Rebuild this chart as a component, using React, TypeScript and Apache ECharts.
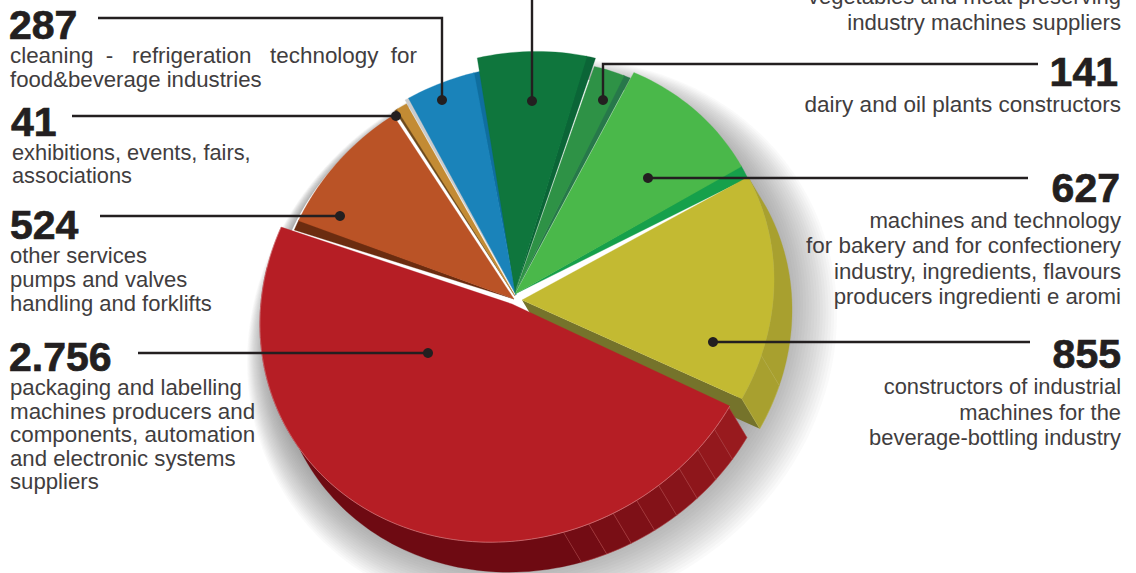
import React, { useEffect, useRef } from "react";
import * as echarts from "echarts";

// ---- data, clockwise from the yellow slice ----
const sliceNames = [
  "constructors of industrial machines for the beverage-bottling industry",
  "packaging and labelling machines producers and components, automation and electronic systems suppliers",
  "other services pumps and valves handling and forklifts",
  "exhibitions, events, fairs, associations",
  "cleaning - refrigeration technology for food&beverage industries",
  "vegetables and meat preserving industry machines suppliers",
  "dairy and oil plants constructors",
  "machines and technology for bakery and for confectionery industry, ingredients, flavours producers ingredienti e aromi",
];
const sliceValues = [855, 2756, 524, 41, 287, 410, 141, 627];
const sliceColors = ["#C3BA32", "#B61E25", "#BA5326", "#C38B34", "#1A83BA", "#0F763D", "#2E9246", "#4AB84A"];

// ---- projection of the pie, layout only ----
const C = [512, 302];
const AX_M = [0.88, -0.47];
const AX_N = [0.47, 0.88];
const R_M = 258;
const R_N = 233;
const EXTRUDE = [18, 30];
const START_THETA = 2;
// painter's order
const paintOrder = [2, 3, 4, 5, 6, 7, 0, 1];
// per slice: offset, radial scale, edge nudges, start strip, end strip
const sliceLayout = [
  { dx: 10, dy: -2, s: 1.0, a0: -2.5, a1: -1.5, startDeg: 0, startCol: "", endDeg: 0, endCol: "" },
  { dx: 0, dy: 2, s: 1, a0: -0.6, a1: -3, startDeg: 0, startCol: "", endDeg: 0, endCol: "" },
  { dx: 2, dy: -3, s: 0.945, a0: -1.5, a1: -0.6, startDeg: 2.5, startCol: "#6B2C10", endDeg: 0, endCol: "" },
  { dx: 3, dy: -6, s: 0.95, a0: 0.3, a1: 0.3, startDeg: 0.6, startCol: "#6E4A1C", endDeg: 0, endCol: "" },
  { dx: 4, dy: -7, s: 0.965, a0: 1.0, a1: -1, startDeg: 0.9, startCol: "#C9CBCD", endDeg: 1.8, endCol: "#0F6E9F" },
  { dx: 3, dy: -10, s: 1.01, a0: 0.4, a1: -0.8, startDeg: 0, startCol: "", endDeg: 2.0, endCol: "#0B6537" },
  { dx: 3, dy: -9, s: 0.98, a0: 1.5, a1: 0, startDeg: 0, startCol: "", endDeg: 1.6, endCol: "#27784A" },
  { dx: 3, dy: -8, s: 1.01, a0: 1.6, a1: -3.4, startDeg: 0, startCol: "", endDeg: 3.2, endCol: "#16A04B" },
];
// soft shadow under the pie, as stacked translucent ellipses
const SHADOW_LAYERS = 24;
const SHADOW_ALPHA = 0.03;
const SHADOW_SCALE = [1.0, 1.17];
const SHADOW_OFFSET_NEAR = [8, 14];
const SHADOW_OFFSET_FAR = [30, 36];

const LINE = "#231F20";
const TXT = "#413D3E";
const NUM = "#231F20";

// leader lines: polyline then a dot at its last point
const leaders = [
  [[98, 18], [442, 18], [442, 100]],
  [[72, 116], [396, 116]],
  [[100, 216], [340, 216]],
  [[138, 353], [428, 353]],
  [[532, 0], [532, 101]],
  [[1038, 64], [603, 64], [603, 100]],
  [[1028, 178], [648, 178]],
  [[1030, 342], [713, 342]],
];

const leftNumbers = [
  { t: "287", x: 9, y: 40 },
  { t: "41", x: 11, y: 137 },
  { t: "524", x: 10, y: 240 },
  { t: "2.756", x: 9, y: 372 },
];
const rightNumbers = [
  { t: "141", x: 1118, y: 87 },
  { t: "627", x: 1120, y: 203 },
  { t: "855", x: 1121, y: 369 },
];
const leftLines = [
  { t: "cleaning  -   refrigeration   technology  for", x: 10, y: 55, size: 22.4 },
  { t: "food&beverage industries", x: 10, y: 79, size: 22.2 },
  { t: "exhibitions, events, fairs,", x: 12, y: 152, size: 21.8 },
  { t: "associations", x: 12, y: 175, size: 21.8 },
  { t: "other services", x: 10, y: 255, size: 22 },
  { t: "pumps and valves", x: 10, y: 279, size: 22 },
  { t: "handling and forklifts", x: 10, y: 303, size: 22 },
  { t: "packaging and labelling", x: 10, y: 387, size: 22.2 },
  { t: "machines producers and", x: 10, y: 411, size: 22.4 },
  { t: "components, automation", x: 10, y: 434, size: 22.4 },
  { t: "and electronic systems", x: 10, y: 458, size: 22.2 },
  { t: "suppliers", x: 10, y: 481, size: 22.2 },
];
const rightLines = [
  { t: "vegetables and meat preserving", x: 1121, y: -4, size: 22 },
  { t: "industry machines suppliers", x: 1121, y: 22, size: 22.2 },
  { t: "dairy and oil plants constructors", x: 1121, y: 104, size: 22.5 },
  { t: "machines and technology", x: 1121, y: 220, size: 22.2 },
  { t: "for bakery and for confectionery", x: 1121, y: 245, size: 22.4 },
  { t: "industry, ingredients, flavours", x: 1121, y: 271, size: 22.2 },
  { t: "producers ingredienti e aromi", x: 1121, y: 296, size: 22.2 },
  { t: "constructors of industrial", x: 1121, y: 386, size: 21.9 },
  { t: "machines for the", x: 1121, y: 412, size: 21.9 },
  { t: "beverage-bottling industry", x: 1121, y: 437, size: 21.9 },
];

const total = sliceValues.reduce((a, b) => a + b, 0);

function sliceSpan(i: number) {
  let sum = 0;
  for (let k = 0; k < i; k++) sum += sliceValues[k];
  const a0 = START_THETA + (sum / total) * 360;
  const a1 = a0 + (sliceValues[i] / total) * 360;
  return [a0, a1];
}

function pt(theta: number, ox: number, oy: number, s: number) {
  const t = (theta * Math.PI) / 180;
  const u = R_M * s * Math.cos(t);
  const v = R_N * s * Math.sin(t);
  return [C[0] + ox + u * AX_M[0] + v * AX_N[0], C[1] + oy + u * AX_M[1] + v * AX_N[1]];
}

function arc(a0: number, a1: number, ox: number, oy: number, s: number) {
  const n = Math.max(2, Math.ceil(Math.abs(a1 - a0) / 1.5));
  const out: number[][] = [];
  for (let k = 0; k <= n; k++) out.push(pt(a0 + ((a1 - a0) * k) / n, ox, oy, s));
  return out;
}

function wedge(a0: number, a1: number, ox: number, oy: number, s: number, fill: string, stroke?: string) {
  return {
    type: "polygon",
    shape: { points: [[C[0] + ox, C[1] + oy], ...arc(a0, a1, ox, oy, s)] },
    style: { fill, stroke: stroke || fill, lineWidth: 0.3 },
  };
}

function band(a0: number, a1: number, L: any, fill: string, stroke?: string) {
  const top = arc(a0, a1, L.dx, L.dy, L.s);
  const bottom = top.map((p) => [p[0] + EXTRUDE[0], p[1] + EXTRUDE[1]]).reverse();
  return {
    type: "polygon",
    shape: { points: [...top, ...bottom] },
    style: { fill, stroke: stroke || fill, lineWidth: stroke ? 0.6 : 0.3 },
  };
}

function mix(c0: number[], c1: number[], f: number) {
  return `rgb(${c0.map((v, i) => Math.round(v + (c1[i] - v) * f)).join(",")})`;
}

function renderSlice(params: any, api: any) {
  const i = api.value(1) as number;
  const L = sliceLayout[i];
  const [a0raw, a1raw] = sliceSpan(i);
  const a0 = a0raw + L.a0;
  const a1 = a1raw + L.a1;
  const children: any[] = [];

  if (params.dataIndex === 0) {
    for (let k = 0; k < SHADOW_LAYERS; k++) {
      const f = 1 - k / (SHADOW_LAYERS - 1);
      const s = SHADOW_SCALE[0] + (SHADOW_SCALE[1] - SHADOW_SCALE[0]) * f;
      const ox = SHADOW_OFFSET_NEAR[0] + (SHADOW_OFFSET_FAR[0] - SHADOW_OFFSET_NEAR[0]) * f;
      const oy = SHADOW_OFFSET_NEAR[1] + (SHADOW_OFFSET_FAR[1] - SHADOW_OFFSET_NEAR[1]) * f;
      children.push({
        type: "polygon",
        shape: { points: arc(0, 360, ox, oy, s) },
        style: { fill: `rgba(90,92,100,${SHADOW_ALPHA})` },
      });
    }
    children.push({
      type: "polygon",
      shape: { points: arc(0, 360, 5, 6, 0.98) },
      style: { fill: "#ffffff" },
    });
  }

  if (i === 0) {
    // inner radial face, then the outer wall
    const apex = [C[0] + L.dx, C[1] + L.dy];
    const end = pt(a1, L.dx, L.dy, L.s);
    children.push({
      type: "polygon",
      shape: {
        points: [apex, end, [end[0] + EXTRUDE[0], end[1] + EXTRUDE[1]], [apex[0] + EXTRUDE[0], apex[1] + EXTRUDE[1]]],
      },
      style: { fill: "#75732B" },
    });
    children.push(band(a0, a1 - 11, L, "#A8A02F"));
    children.push(band(a1 - 11, a1, L, "#A8A02F", "#B9B24A"));
  }
  if (i === 1) {
    const dark = [110, 10, 18];
    const light = [152, 26, 30];
    children.push(band(a0 + 48, a1 - 10, L, "#6E0A12"));
    for (let k = 0; k < 8; k++) {
      const b1 = a0 + 48 - k * 5.95;
      const b0 = b1 - 5.95;
      children.push(band(Math.max(b0, a0), b1, L, mix(dark, light, (k + 1) / 8), "#A93A3E"));
    }
  }
  if (L.startDeg) children.push(wedge(a0 - L.startDeg, a0 + 0.2, L.dx, L.dy, L.s, L.startCol));
  if (L.endDeg) children.push(wedge(a1 - 0.2, a1 + L.endDeg, L.dx, L.dy, L.s, L.endCol));
  children.push(wedge(a0, a1, L.dx, L.dy, L.s, sliceColors[i]));
  if (i === 1) {
    children.push({
      type: "polyline",
      shape: { points: arc(a0, a1, L.dx, L.dy, L.s) },
      style: { stroke: "#D27A7E", lineWidth: 0.7, fill: "none" },
    });
  }
  return { type: "group", children };
}

function buildGraphic() {
  const els: any[] = [];
  leaders.forEach((pts) => {
    els.push({
      type: "polyline",
      shape: { points: pts },
      style: { stroke: LINE, lineWidth: 2.4, fill: "none" },
      z: 20,
    });
    const end = pts[pts.length - 1];
    els.push({ type: "circle", shape: { cx: end[0], cy: end[1], r: 5 }, style: { fill: LINE }, z: 21 });
  });
  const text = (t: string, x: number, y: number, align: string, size: number, weight: string, color: string, sw: number) => ({
    type: "text",
    x,
    y,
    style: {
      text: t,
      fill: color,
      stroke: sw ? color : undefined,
      lineWidth: sw,
      align,
      verticalAlign: "middle",
      font: `${weight} ${size}px "Liberation Sans", Arial, sans-serif`,
    },
    z: 22,
  });
  // numbers are anchored by their middle: their baseline lies about 15.5px below it
  leftNumbers.forEach((n) => els.push(text(n.t, n.x, n.y - 15.5, "left", 41, "bold", NUM, 0.7)));
  rightNumbers.forEach((n) => els.push(text(n.t, n.x, n.y - 15.5, "right", 41, "bold", NUM, 0.7)));
  leftLines.forEach((l) => els.push(text(l.t, l.x, l.y, "left", l.size, "normal", TXT, 0)));
  rightLines.forEach((l) => els.push(text(l.t, l.x, l.y, "right", l.size, "normal", TXT, 0)));
  return els;
}

export default function App() {
  const ref = useRef<HTMLDivElement>(null);
  useEffect(() => {
    const chart = echarts.init(ref.current!, undefined, { renderer: "svg" });
    chart.setOption({
      animation: false,
      backgroundColor: "#ffffff",
      series: [
        {
          type: "custom",
          coordinateSystem: "none",
          silent: true,
          renderItem: renderSlice,
          data: paintOrder.map((i) => ({ name: sliceNames[i], value: [sliceValues[i], i] })),
        },
      ],
      graphic: buildGraphic(),
    });
    return () => chart.dispose();
  }, []);
  return (
    <div
      ref={ref}
      style={{ position: "absolute", left: 0, top: 0, width: 1136, height: 573, overflow: "hidden" }}
    />
  );
}
